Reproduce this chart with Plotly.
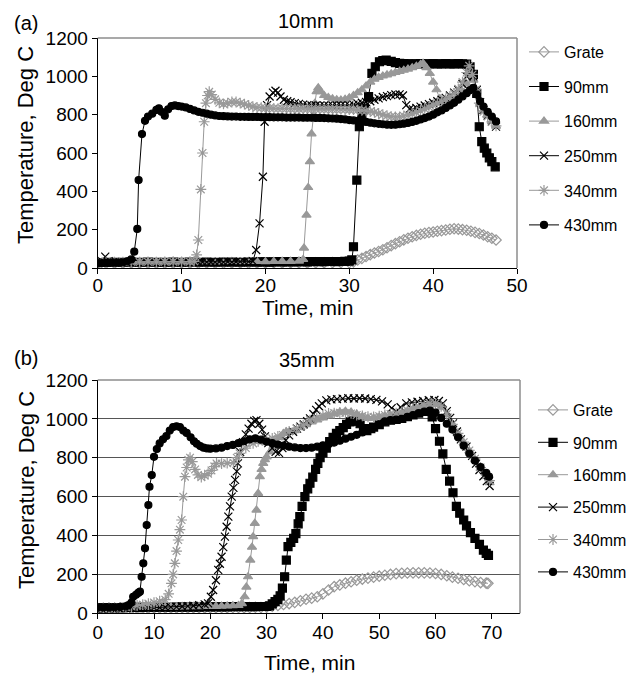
import plotly.graph_objects as go

# ---------------- (a) 10mm ----------------
grate10_t = [0,1,2,3,4,5,6,7,8,9,10,11,12,13,14,15,16,17,18,19,20,21,22,23,24,25,26,27,28,29,30,
             30.5,31,31.5,32,32.5,33,33.5,34,34.5,35,35.5,36,36.5,37,37.5,38,38.5,39,39.5,40,
             40.5,41,41.5,42,42.5,43,43.5,44,44.5,45,45.5,46,46.5,47,47.5]
grate10_v = [25,25,24,25,26,25,25,24,25,25,26,25,25,26,25,25,26,26,25,26,26,27,26,27,27,26,27,27,28,28,28,
             32,42,50,60,70,78,86,95,106,117,127,137,147,155,163,170,176,181,185,188,
             192,195,198,202,205,203,200,197,192,186,180,172,163,155,146]

mm90_10_t = [0,1,2,3,4,5,6,7,8,9,10,11,12,13,14,15,16,17,18,19,
             19.5,20,20.5,21,21.5,22,22.5,23,23.5,24,24.5,25,25.5,26,26.5,27,27.5,28,28.5,29,29.5,30,
             30.3,30.5,30.9,31.2,31.5,31.8,32.3,32.7,33.1,33.6,34,34.4,
             35,35.5,36,36.5,37,37.5,38,38.5,39,39.5,40,40.5,41,41.5,42,42.5,43,43.5,44,
             44.4,44.8,45.2,45.5,45.8,46.1,46.4,46.7,47,47.4]
mm90_10_v = [28,29,30,30,31,30,31,30,30,31,30,31,30,31,30,31,31,30,31,31,
             32,32,31,32,33,32,32,33,32,33,33,32,33,34,33,33,34,34,33,34,35,36,
             42,111,459,737,790,830,894,1015,1050,1076,1082,1085,
             1078,1072,1068,1066,1065,1065,1065,1066,1065,1065,1066,1065,1065,1066,1065,1065,1066,1065,1064,
             1050,1010,911,737,659,625,600,575,555,528]

mm160_10_t = [0,1,2,3,4,5,6,7,8,9,10,11,12,13,14,15,16,17,18,19,20,21,22,23,24,
              24.5,24.6,24.9,25.1,25.3,25.5,25.7,25.9,26.1,26.3,26.6,27,27.5,28,28.5,29,29.5,30,30.5,31,
              31.5,32,32.5,33,33.5,34,34.5,35,35.5,36,36.5,37,37.5,38,38.5,38.8,39.2,39.6,40,40.4,
              40.8,41.2,41.6,42,42.5,43,43.5,44,44.4,44.8,45.2,45.6,46,46.5,47,47.5]
mm160_10_v = [30,31,30,31,32,31,32,32,31,32,33,32,33,33,32,33,34,33,34,34,33,34,35,35,36,
              45,104,276,420,555,700,790,860,920,940,920,900,890,883,878,876,880,888,900,915,
              930,950,970,985,995,1002,1008,1014,1020,1026,1032,1038,1045,1053,1062,1068,1045,1015,970,930,
              885,860,855,862,875,895,920,960,1005,980,920,860,825,795,765,740]

mm250_10_t = [0,0.5,0.9,1.3,2,3,4,5,6,7,8,9,10,11,
              11.5,12,12.5,13,13.5,14,14.5,15,15.5,16,16.5,17,17.5,18,18.5,
              18.9,19.3,19.7,19.9,20.2,20.5,20.9,21.2,21.5,21.8,22.2,22.6,23,23.5,24,24.5,25,25.5,26,26.5,
              27,27.5,28,28.5,29,29.5,30,30.5,31,31.5,32,32.5,33,33.5,34,34.5,35,35.5,36,36.4,
              36.8,37.2,37.6,38,38.5,39,39.5,40,40.5,41,41.5,42,42.5,43,43.5,44,44.4,44.8,45.2,45.6,
              46,46.5,47,47.5]
mm250_10_v = [30,35,59,35,30,30,31,30,30,31,30,31,30,31,
              31,30,31,31,30,31,32,31,32,31,32,33,32,33,35,
              94,233,476,763,850,895,915,925,915,895,878,870,865,860,856,852,850,848,848,847,
              848,847,848,848,848,847,848,852,858,862,866,870,878,885,892,897,902,905,906,900,
              850,830,828,835,842,848,855,862,870,878,888,900,915,930,960,1000,1030,1000,930,865,
              825,795,765,738]

mm340_10_t = [0,1,2,3,4,5,6,7,8,9,10,11,11.5,
              11.8,12.0,12.3,12.5,12.7,12.9,13.1,13.3,13.6,14,
              14.5,15,15.5,16,16.5,17,17.5,18,18.5,19,19.5,20,20.5,21,21.5,22,22.5,23,23.5,24,
              24.5,25,25.5,26,26.5,27,27.5,28,28.5,29,29.5,30,30.5,31,31.5,32,32.5,33,33.5,34,
              34.5,35,35.5,36,36.5,37,37.5,38,38.5,39,39.5,40,40.5,41,41.5,42,42.5,43,43.5,44,
              44.3,44.7,45.1,45.5,46,46.5,47,47.5]
mm340_10_v = [30,31,30,31,32,31,32,31,32,33,32,33,35,
              68,146,410,600,763,860,900,920,905,880,
              862,856,860,866,866,860,855,848,842,838,836,834,835,833,832,833,832,831,832,830,
              831,830,829,830,829,828,829,828,827,828,827,826,826,824,822,820,816,812,806,800,
              795,790,788,789,793,798,805,812,820,830,840,850,860,870,882,895,910,935,970,1020,
              1055,1010,930,860,815,790,762,742]

mm430_10_t = [0,0.5,1,1.5,2,2.5,3,3.5,4,
              4.36,4.72,4.88,5.28,5.64,6,6.5,7,7.3,7.6,8,8.4,8.8,9.2,9.6,
              10,10.5,11,11.5,12,12.5,13,13.5,14,14.5,15,15.5,16,16.5,17,17.5,18,18.5,19,19.5,
              20,20.5,21,21.5,22,22.5,23,23.5,24,24.5,25,25.5,26,26.5,27,27.5,28,28.5,29,29.5,
              30,30.5,31,31.5,32,32.5,33,33.5,34,34.5,35,35.5,36,36.5,37,37.5,38,38.5,39,39.5,
              40,40.5,41,41.5,42,42.5,43,43.5,44,
              44.4,44.8,45.2,45.6,46,46.5,47,47.5]
mm430_10_v = [25,25,27,28,28,28,30,35,45,
              85,204,459,699,768,790,805,825,833,815,795,828,845,848,845,
              842,838,830,822,815,810,805,800,796,793,792,791,790,790,789,789,788,788,788,787,
              787,787,786,786,786,785,785,785,785,784,784,784,783,783,782,781,780,779,777,775,
              772,770,768,765,762,758,755,752,750,748,747,748,750,753,757,762,768,775,782,790,
              800,812,822,835,848,862,878,895,912,
              928,940,905,870,842,815,790,765]

# ---------------- (b) 35mm ----------------
grate35_t = list(range(0, 70)) + [69.3]
grate35_v = [26,26,27,26,27,27,26,27,28,27,28,28,27,28,28,29,28,29,29,28,29,29,30,29,30,30,29,30,31,30,
             32,36,40,45,50,56,64,72,78,85,100,120,137,146,155,162,170,176,181,186,
             191,196,200,204,206,207,208,208,208,207,205,200,193,186,180,174,168,163,158,155,154]

mm90_35_t = list(range(0, 31)) + [
             30.5,31,31.5,32,32.4,32.8,33.2,33.5,33.8,34.3,34.8,35.2,35.6,35.9,36.3,36.8,37.3,37.7,38.2,38.7,
             39.1,39.5,40,40.6,41.2,41.8,42.4,43,43.6,44.2,44.8,45.4,46,46.6,47.2,47.8,48.5,49,50,51,
             52,53,54,55,56,57,58,58.8,59.4,60,60.7,61.3,61.9,62.5,63.1,63.7,64.3,65,65.5,66.2,
             67,67.8,68.5,69,69.4]
mm90_35_v = [28,28,29,29,29,30,30,30,30,31,31,31,31,31,32,32,32,32,32,33,33,33,33,33,34,34,34,34,34,35,35,
             38,48,60,72,90,130,188,274,343,365,385,410,460,497,550,600,640,669,700,740,
             771,800,825,850,883,905,925,940,955,972,985,990,988,975,950,940,950,958,970,985,
             993,997,1003,1012,1020,1030,1038,1040,1010,950,885,820,740,680,620,550,515,480,450,415,
             385,355,325,308,298]

mm160_35_t = list(range(0, 26)) + [
              25.6,26.1,26.4,26.7,27.1,27.4,27.6,27.9,28.2,28.5,28.8,29.1,29.4,29.7,30,30.6,31.2,31.8,32.4,33,
              33.5,34] + list(range(35, 70)) + [69.6]
mm160_35_v = [28,28,28,29,29,29,29,30,30,30,30,31,31,32,32,33,33,34,34,35,35,36,37,38,39,40,
              50,85,135,188,274,340,394,463,531,617,703,740,771,790,805,830,858,880,905,925,
              934,930,
              940,955,970,985,995,1005,1015,1025,1035,1040,1035,1025,1012,1002,1005,1010,1015,1020,1025,1030,
              1040,1050,1058,1066,1072,1074,1060,1022,972,922,877,835,790,745,705,672]

mm250_35_t = list(range(0, 20)) + [
              19.6,20.1,20.5,21,21.4,21.7,22,22.3,22.6,22.9,23.2,23.5,23.8,24.1,24.4,24.7,24.9,25.3,25.8,26.3,
              26.8,27.3,27.8,28.2,28.7,29.2,29.7,30.3,31,31.6,32.2,32.8,33.4,34,34.7,35.4,36,36.6,37.2,37.7,
              38.3,38.8,39.3,39.8,40.6,41.5,42.5,43.5,44.5,45.5,46.5,47.5,48.5,49.5,50.5,51.5,52.2,53,53.8,54.8,
              55.8,56.8,57.8,58.8,59.8,60.6,61.3,62,62.6,63.1,63.8,64.5,65.5,66.5,67.2,67.8,68.5,69.1,69.6]
mm250_35_v = [25,25,25,26,26,26,27,27,27,28,29,30,31,32,33,35,37,39,42,46,
              51,85,120,170,223,255,291,340,394,445,497,550,600,645,686,730,771,830,880,920,
              950,975,990,994,975,945,910,875,850,830,825,850,890,915,934,950,960,972,988,1003,
              1025,1046,1065,1080,1095,1100,1102,1104,1106,1105,1106,1105,1102,1098,1090,1075,1055,1038,1060,1080,
              1085,1088,1092,1096,1097,1092,1080,1040,1005,977,935,895,857,810,770,737,705,680,655]

mm340_35_t = list(range(0, 13)) + [
              12.6,13.1,13.4,13.7,14,14.3,14.6,14.9,15.2,15.5,15.8,16.1,16.4,16.8,17.3,17.8,18.4,19,19.6,20.2,
              20.7,21.1,22,23,24.1,24.7,25.2,26.3,27.6,28.5,29.3,30,31,32,32.9,34,35.3,36.5,37.7,38.9,
              40] + list(range(41, 70)) + [69.6]
mm340_35_v = [25,26,27,28,30,32,35,40,45,50,55,62,70,
              100,154,200,257,320,377,430,480,600,703,750,789,800,780,740,712,700,708,718,735,
              755,771,770,772,775,800,823,850,874,885,889,891,900,910,917,935,951,968,994,1005,
              1018,
              1028,1030,1032,1030,1028,1020,1015,1011,1010,1014,1020,1025,1029,1036,1045,1055,1063,1070,1080,1080,
              1065,1025,972,925,880,838,795,750,712,682]

mm430_35_t = [0,1,2,3,4,5,5.5,6,6.3,6.8,7.2,7.5,7.8,8.1,8.4,8.7,9,9.2,9.6,10,
              10.5,11,11.6,12.2,12.8,13.4,14,14.6,15.2,15.8,16.5,17.1,17.6,18.2,18.8,19.4,20] + \
             list(range(21, 70)) + [69.5]
mm430_35_v = [30,30,30,31,33,36,42,55,85,95,105,111,188,257,334,454,557,651,711,805,
              845,874,895,912,940,958,962,958,940,928,905,885,872,860,852,848,847,
              848,852,860,866,875,885,895,900,893,883,875,868,862,857,853,850,850,852,857,864,
              870,878,888,898,908,918,930,943,957,972,987,994,996,1000,1010,1020,1030,1038,1042,1032,
              1005,975,945,905,862,822,785,752,722,703]

series_names = ["Grate", "90mm", "160mm", "250mm", "340mm", "430mm"]
panel_a = [(grate10_t, grate10_v), (mm90_10_t, mm90_10_v), (mm160_10_t, mm160_10_v),
           (mm250_10_t, mm250_10_v), (mm340_10_t, mm340_10_v), (mm430_10_t, mm430_10_v)]
panel_b = [(grate35_t, grate35_v), (mm90_35_t, mm90_35_v), (mm160_35_t, mm160_35_v),
           (mm250_35_t, mm250_35_v), (mm340_35_t, mm340_35_v), (mm430_35_t, mm430_35_v)]

GRAY = "#999999"
BLACK = "#000000"
styles = {
    "Grate": dict(color=GRAY, symbol="diamond-open", size=8),
    "90mm": dict(color=BLACK, symbol="square", size=8),
    "160mm": dict(color=GRAY, symbol="triangle-up", size=8),
    "250mm": dict(color=BLACK, symbol="x-thin", size=8),
    "340mm": dict(color=GRAY, symbol="asterisk", size=9),
    "430mm": dict(color=BLACK, symbol="circle", size=7),
}

fig = go.Figure()
for panel, (xa, ya, leg) in [(panel_a, ("x", "y", "legend")), (panel_b, ("x2", "y2", "legend2"))]:
    for name, (t, v) in zip(series_names, panel):
        n = min(len(t), len(v))
        st = styles[name]
        fig.add_trace(go.Scatter(
            x=t[:n], y=v[:n], name=name, mode="lines+markers",
            xaxis=xa, yaxis=ya, legend=leg, legendgroup=leg + name,
            line=dict(color=st["color"], width=1),
            marker=dict(symbol=st["symbol"], size=st["size"], color=st["color"],
                        line=dict(color=st["color"], width=1.2)),
        ))

FONT = "Liberation Sans, Arial, sans-serif"
W, H = 640, 675
ax_common = dict(showgrid=False, zeroline=False, showline=True, linecolor="black", linewidth=1,
                 ticks="outside", ticklen=5, tickcolor="black", tickwidth=1, automargin=False,
                 tickfont=dict(family=FONT, size=19, color="black"))

fig.update_layout(
    width=W, height=H, margin=dict(l=0, r=0, t=0, b=0, autoexpand=False),
    paper_bgcolor="white", plot_bgcolor="white",
    font=dict(family=FONT, color="black"),
    xaxis=dict(domain=[97.7 / W, 517 / W], anchor="y", range=[0, 50], dtick=10,
               ticklabelstandoff=-5, **ax_common),
    yaxis=dict(domain=[1 - 268 / H, 1 - 38 / H], anchor="x", range=[0, 1200], dtick=200, **ax_common),
    xaxis2=dict(domain=[97.7 / W, 520 / W], anchor="y2", range=[0, 75], dtick=10,
                ticklabelstandoff=-3, **ax_common),
    yaxis2=dict(domain=[1 - 613.3 / H, 1 - 380 / H], anchor="x2", range=[0, 1200], dtick=200,
                **{**ax_common, "showgrid": True, "gridcolor": "#555555", "gridwidth": 1}),
    legend=dict(x=524 / W, y=1 - 35 / H, xanchor="left", yanchor="top",
                font=dict(size=16), tracegroupgap=10.8, bgcolor="rgba(0,0,0,0)"),
    legend2=dict(x=533 / W, y=1 - 393 / H, xanchor="left", yanchor="top",
                 font=dict(size=16), tracegroupgap=8.6, bgcolor="rgba(0,0,0,0)"),
    showlegend=True,
    shapes=[
        dict(type="line", xref="x domain", yref="y domain", x0=0, x1=1, y0=1, y1=1,
             line=dict(color="#8c8c8c", width=1.5), layer="above"),
        dict(type="line", xref="x domain", yref="y domain", x0=1, x1=1, y0=0, y1=1,
             line=dict(color="#8c8c8c", width=1.5), layer="above"),
        dict(type="line", xref="x2 domain", yref="y2 domain", x0=0, x1=1, y0=1, y1=1,
             line=dict(color="#8c8c8c", width=1.5), layer="above"),
        dict(type="line", xref="x2 domain", yref="y2 domain", x0=1, x1=1, y0=0, y1=1,
             line=dict(color="#8c8c8c", width=1.5), layer="above"),
    ],
    annotations=[
        dict(text="(a)", x=12 / W, y=1 - 23 / H, xref="paper", yref="paper", xanchor="left",
             yanchor="middle", showarrow=False, font=dict(size=20)),
        dict(text="10mm", x=306 / W, y=1 - 21 / H, xref="paper", yref="paper", xanchor="center",
             yanchor="middle", showarrow=False, font=dict(size=20)),
        dict(text="(b)", x=12 / W, y=1 - 358 / H, xref="paper", yref="paper", xanchor="left",
             yanchor="middle", showarrow=False, font=dict(size=20)),
        dict(text="35mm", x=307 / W, y=1 - 360 / H, xref="paper", yref="paper", xanchor="center",
             yanchor="middle", showarrow=False, font=dict(size=20)),
        dict(text="Time, min", x=307 / W, y=1 - 307 / H, xref="paper", yref="paper",
             xanchor="center", yanchor="middle", showarrow=False, font=dict(size=21)),
        dict(text="Time, min", x=309 / W, y=1 - 662 / H, xref="paper", yref="paper",
             xanchor="center", yanchor="middle", showarrow=False, font=dict(size=21)),
        dict(text="Temperature, Deg C", x=26 / W, y=1 - 145 / H, xref="paper", yref="paper",
             xanchor="center", yanchor="middle", textangle=-90, showarrow=False, font=dict(size=22)),
        dict(text="Temperature, Deg C", x=26 / W, y=1 - 490 / H, xref="paper", yref="paper",
             xanchor="center", yanchor="middle", textangle=-90, showarrow=False, font=dict(size=22)),
    ],
)

fig.write_html("out.html")
